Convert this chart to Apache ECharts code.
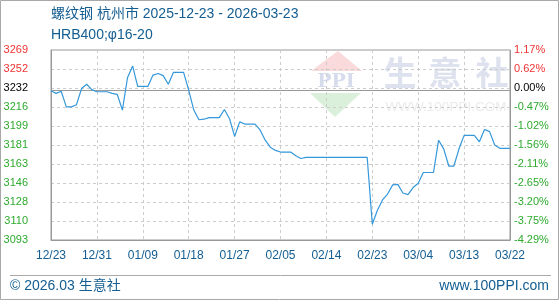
<!DOCTYPE html>
<html>
<head>
<meta charset="utf-8">
<script src="https://cdn.jsdelivr.net/npm/echarts@6/dist/echarts.min.js"></script>
<style>
html,body{margin:0;padding:0;background:#fff;}
#c{width:560px;height:300px;}
</style>
</head>
<body>
<div id="c"></div>
<script>
// ---- data ----
const startDay = [2025, 11, 23]; // 2025-12-23, one category per calendar day to 2026-03-23
const dayCount = 91;
const xLabels = ['12/23','12/31','01/09','01/18','01/27','02/05','02/14','02/23','03/04','03/13','03/22'];
const prices = [
  3232, 3229.5, 3231.5, 3217, 3217, 3219, 3234, 3238, 3233, 3231,
  3231, 3231, 3229.5, 3228.5, 3214, 3244, 3255, 3236, 3236, 3236,
  3246.5, 3248, 3246, 3238, 3249, 3249, 3249, 3232.5, 3214, 3205,
  3205.5, 3207, 3207, 3207, 3214.5, 3206, 3189.5, 3203, 3201, 3201,
  3201, 3195.5, 3186, 3179.5, 3176.5, 3175, 3175, 3175, 3171.5, 3169,
  3170, 3170, 3170, 3170, 3170, 3170, 3170, 3170, 3170, 3170,
  3170, 3170, 3170, 3108, 3121, 3130.5, 3136, 3144.5, 3145, 3137,
  3135.5, 3142, 3146, 3156, 3156, 3156, 3186, 3178, 3162, 3162,
  3178, 3190.5, 3190.5, 3190.5, 3184.5, 3196, 3194, 3181.5, 3178.5, 3178.5,
  3178.5
];
const basePrice = 3232;
const priceMin = 3093.3;
const priceMax = 3269.8;
const leftLabels = ['3093','3110','3128','3146','3163','3181','3199','3216','3232','3252','3269'];
const rightLabels = ['-4.29%','-3.75%','-3.20%','-2.65%','-2.11%','-1.56%','-1.02%','-0.47%','0.00%','0.62%','1.17%'];
const baseIndex = 8;

const titleLine1 = '螺纹钢 杭州市 2025-12-23 - 2026-03-23';
const titleLine2 = 'HRB400;φ16-20';
const footLeft = '© 2026.03 生意社';
const footRight = 'www.100PPI.com';

// categories
const dates = [];
for (let k = 0; k < dayCount; k++) {
  const d = new Date(startDay[0], startDay[1], startDay[2] + k);
  dates.push(d.getFullYear() + '-' + String(d.getMonth() + 1).padStart(2, '0') + '-' + String(d.getDate()).padStart(2, '0'));
}

const FONT = '"Liberation Sans", Arial, "Noto Sans CJK SC", sans-serif';
const RED = '#f03333', GREEN = '#2eaa2e', BLUE = '#135d91';
function labColor(v) {
  v = Math.round(Number(v));
  return v > baseIndex ? RED : (v === baseIndex ? '#000' : GREEN);
}

const chart = echarts.init(document.getElementById('c'), null, {renderer: 'canvas'});
chart.setOption({
  backgroundColor: '#fff',
  animation: false,
  grid: {left: 51, right: 50, top: 50, bottom: 60, show: true, borderColor: '#999', borderWidth: 1, backgroundColor: 'transparent'},
  xAxis: {
    type: 'category', data: dates, boundaryGap: false,
    axisLine: {lineStyle: {color: '#999'}},
    axisTick: {show: false},
    axisLabel: {
      interval: 8, margin: 10, color: BLUE, fontSize: 12, fontFamily: FONT,
      formatter: (v, i) => xLabels[Math.round(i / 9)]
    },
    splitLine: {show: true, interval: 8, lineStyle: {color: '#ccc', type: [3, 3]}}
  },
  yAxis: [
    {type: 'value', min: priceMin, max: priceMax, show: false, splitLine: {show: false}},
    {
      type: 'value', min: 0, max: 10, interval: 1, position: 'left',
      axisLine: {show: true, lineStyle: {color: '#999'}}, axisTick: {show: false},
      axisLabel: {margin: 23, fontSize: 11, fontFamily: FONT, color: labColor, formatter: v => leftLabels[Math.round(v)]},
      splitLine: {show: true, lineStyle: {color: '#ccc', type: [3, 3]}}
    },
    {
      type: 'value', min: 0, max: 10, interval: 1, position: 'right',
      axisLine: {show: true, lineStyle: {color: '#999'}}, axisTick: {show: false},
      axisLabel: {margin: 4, fontSize: 11, fontFamily: FONT, color: labColor, formatter: v => rightLabels[Math.round(v)]},
      splitLine: {show: false}
    }
  ],
  graphic: [
    {type: 'rect', silent: true, z: 100, shape: {x: 0.5, y: 0.5, width: 558, height: 299}, style: {fill: null, stroke: '#a8a8a8', lineWidth: 1}},
    {type: 'text', left: 51, top: 7, style: {text: titleLine1, fill: BLUE, font: '14px ' + FONT}},
    {type: 'text', left: 51, top: 28, style: {text: titleLine2, fill: BLUE, font: '14px ' + FONT}},
    // watermark
    {type: 'polygon', z: -1, silent: true, shape: {points: [[311, 71], [338, 51], [362, 71]]}, style: {fill: '#fadada'}},
    {type: 'text', z: -1, silent: true, x: 336, y: 82, style: {text: 'PPI', fill: '#d6dcec', font: 'bold 19px "DejaVu Serif", serif', align: 'center', verticalAlign: 'middle'}},
    {type: 'polygon', z: -1, silent: true, shape: {points: [[310, 93], [361, 93], [335, 117]]}, style: {fill: '#daf0da'}},
    {type: 'text', z: -1, silent: true, x: 400, y: 72, style: {text: '生', fill: '#dde2ee', font: 'bold 33px "Noto Sans CJK SC", sans-serif', align: 'center', verticalAlign: 'middle'}},
    {type: 'text', z: -1, silent: true, x: 445, y: 72, style: {text: '意', fill: '#dde2ee', font: 'bold 33px "Noto Sans CJK SC", sans-serif', align: 'center', verticalAlign: 'middle'}},
    {type: 'text', z: -1, silent: true, x: 492, y: 72, style: {text: '社', fill: '#dde2ee', font: 'bold 33px "Noto Sans CJK SC", sans-serif', align: 'center', verticalAlign: 'middle'}},
    {type: 'text', z: -1, silent: true, x: 446, y: 107, style: {text: 'WWW.100PPI.COM', fill: '#ebebeb', font: '13.5px ' + FONT, align: 'center', verticalAlign: 'middle'}},
    // footer
    {type: 'line', silent: true, shape: {x1: 10, y1: 275.5, x2: 551, y2: 275.5}, style: {stroke: '#aaa', lineWidth: 1}},
    {type: 'text', x: 10, y: 286, style: {text: footLeft, fill: BLUE, font: '14px ' + FONT, verticalAlign: 'middle'}},
    {type: 'text', x: 549, y: 286, style: {text: footRight, fill: BLUE, font: '14px ' + FONT, align: 'right', verticalAlign: 'middle'}}
  ],
  series: [{
    type: 'line', yAxisIndex: 0, data: prices, showSymbol: false, symbol: 'none',
    lineStyle: {color: '#3498db', width: 1.2}, z: 5,
    markLine: {
      silent: true, symbol: 'none', label: {show: false},
      lineStyle: {color: '#999', type: 'solid', width: 1},
      data: [{yAxis: basePrice}]
    }
  }]
});
</script>
</body>
</html>
